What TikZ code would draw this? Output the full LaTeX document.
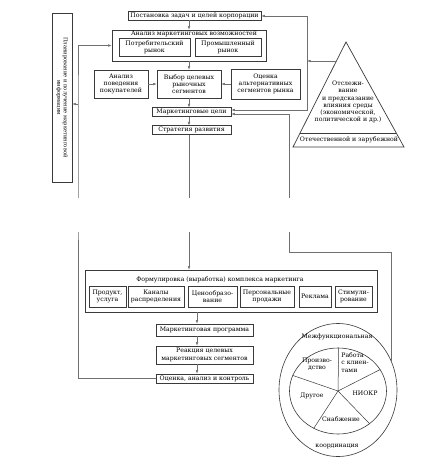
\documentclass[tikz,border=0pt]{standalone}
\usepackage{fontspec}
\setmainfont{DejaVu Serif}
\usetikzlibrary{arrows.meta,calc,shapes.geometric}
\definecolor{scanInk}{HTML}{3A3A3A}
\definecolor{scanLine}{HTML}{707070}

\begin{document}
\begin{tikzpicture}[>={Latex[length=3.5pt,width=2.6pt]},x=1pt,y=-1pt,
  font=\fontsize{6.2}{7.3}\selectfont,
  box/.style={draw=scanInk,line width=0.7pt,align=center,inner sep=0pt},
  link/.style={draw=scanLine,line width=0.5pt}]
  \useasboundingbox[fill=white] (0,0) rectangle (421,459);
  \coordinate (spine) at (189,0);
  \coordinate (axis) at (197,0);

  \node[box,minimum width=133,minimum height=8.5] (goals) at (194.5,16) {Постановка задач и целей корпорации};
  \node[box,minimum width=154,minimum height=31] (analysis) at (189,45.5) {};
  \node (analysistitle) at (194,34) {Анализ маркетинговых возможностей};
  \node[box,minimum width=71,minimum height=18] (consumer) at (154.5,47) {Потребительский\\рынок};
  \node[box,minimum width=66,minimum height=18] (industrial) at (228,47) {Промышленный\\рынок};
  \node[box,minimum width=54,minimum height=28] (behaviour) at (121,84) {Анализ\\поведения\\покупателей};
  \node[box,minimum width=64,minimum height=28] (select) at (189,84) {Выбор целевых\\рыночных\\сегментов};
  \node[box,minimum width=69,minimum height=30] (alt) at (265.5,84) {Оценка\\альтернативных\\сегментов рынка};
  \node[box,minimum width=79,minimum height=8.5] (aims) at (191.5,112) {Маркетинговые цели};
  \node[box,minimum width=79,minimum height=8.5] (strategy) at (191.5,130) {Стратегия развития};
  \node[box,minimum width=20,minimum height=169] (info) at (62,97.5) {};
  \node[rotate=-90,align=center,font=\fontsize{5.2}{6.6}\selectfont] (infotext) at (info.center) {Планирование и получение маркетинговой\\информации};

  \draw[scanInk,line width=0.7pt] (346,42) -- (404,147) -- (293,147) -- cycle;
  \draw[scanInk,line width=0.7pt] (300.1,133) -- (396.3,133);
  \node[align=center] (envtext) at (348,102) {Отслежи-\\вание\\и предсказание\\влияния среды\\(экономической,\\политической и др.)};
  \node (envbase) at (349,140) {Отечественной и зарубежной};
  \coordinate (env) at (336.4,61);

  \node[box,minimum width=292,minimum height=42] (mix) at (231,291) {};
  \node (mixtitle) at (220,279.5) {Формулировка (выработка) комплекса маркетинга};
  \foreach \x/\w/\name/\label in {
    107.5/37/product/{Продукт,\\услуга},
    156/56/channels/{Каналы\\распределения},
    212.5/49/price/{Ценообразо-\\вание},
    267/54/personal/{Персональные\\продажи},
    315/32/ads/{Реклама},
    353.5/37/promo/{Стимули-\\рование}}
  {
    \node[box,minimum width=\w,minimum height=21] (\name) at (\x,296.5) {\label};
  }
  \node[box,minimum width=97,minimum height=12] (program) at (204.5,330) {Маркетинговая программа};
  \node[box,minimum width=97,minimum height=18] (reaction) at (204.5,355) {Реакция целевых\\маркетинговых сегментов};
  \node[box,minimum width=97,minimum height=9] (eval) at (204.5,378.5) {Оценка, анализ и контроль};

  \node[draw=scanInk,line width=0.6pt,ellipse,minimum width=118,minimum height=133,inner sep=0pt] (coord) at (338,390) {};
  \node[draw=scanInk,line width=0.6pt,ellipse,minimum width=97,minimum height=86,inner sep=0pt] (pie) at (338,391) {};
  \foreach \a in {89,27,-46,-123,161}
    \draw[scanInk,line width=0.5pt] (pie.center) -- (pie.\a);
  \node (crossfunc) at (337,336.5) {Межфункциональная};
  \node (coordination) at (337,446) {координация};
  \node[align=center] (production) at (317,364.5) {Произво-\\дство};
  \node[align=left] (clients) at (355,362.5) {Работа\\с клиен-\\тами};
  \node (rnd) at (365,393) {НИОКР};
  \node (other) at (312,396) {Другое};
  \node (supply) at (341,419) {Снабжение};

  \draw[link,->] (analysis.north -| spine) ++(0,-9.5) -- (analysis.north -| spine);
  \draw[link,->] (analysis.south -| spine) -- (select.north -| spine);
  \draw[link,->] (behaviour) -- (select);
  \draw[link,->] (alt) -- (select);
  \draw[link,->] (select.south -| spine) -- (aims.north -| spine);
  \draw[link,->] (aims.south -| spine) -- (strategy.north -| spine);
  \draw[link,->] (strategy.south -| spine) -- (mix.north -| spine);
  \draw[link,->] (mix.south -| axis) -- (program.north -| axis);
  \draw[link,->] (program.south -| axis) -- (reaction.north -| axis);
  \draw[link,->] (reaction.south -| axis) -- (eval.north -| axis);

  \coordinate (rv) at (307,61);
  \draw[link,->] (env) -- (rv);
  \draw[link,->] (rv) |- (goals.east);
  \draw[link,->] (rv) |- ($(aims.east)+(0,-2)$);
  \coordinate (rturn) at (289,252);
  \draw[link,->] (coord.29) |- (rturn) |- ($(aims.east)+(0,2)$);

  \coordinate (lv) at (78,104);
  \draw[link,->] (eval.west) -| (lv) |- (analysis.west);
  \draw[link,->] (lv) -- (lv -| info.east);

  \fill[white] (70,198) rectangle (300,232);
\end{tikzpicture}
\end{document}
